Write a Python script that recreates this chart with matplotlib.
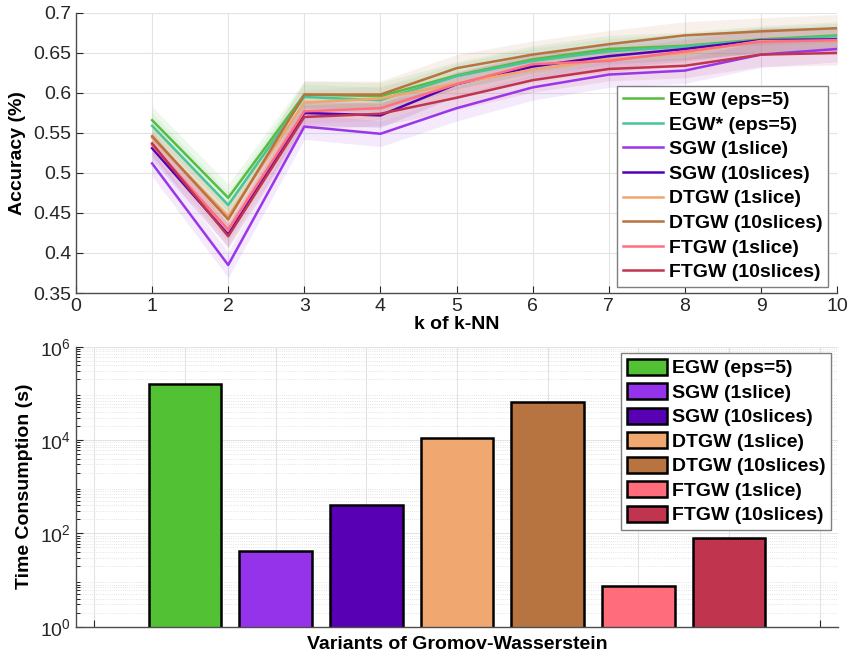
import numpy as np
import matplotlib
matplotlib.use('Agg')
import matplotlib.pyplot as plt
from matplotlib.ticker import FormatStrFormatter, LogLocator, NullFormatter

plt.rcParams['font.family'] = ['Liberation Sans', 'DejaVu Sans']
plt.rcParams['font.size'] = 14

# k-NN accuracy for each Gromov-Wasserstein variant
k_values = [1, 2, 3, 4, 5, 6, 7, 8, 9, 10]
line_labels = ['EGW (eps=5)', 'EGW* (eps=5)', 'SGW (1slice)', 'SGW (10slices)',
               'DTGW (1slice)', 'DTGW (10slices)', 'FTGW (1slice)', 'FTGW (10slices)']
acc_egw = [0.566, 0.469, 0.598, 0.596, 0.622, 0.642, 0.655, 0.659, 0.667, 0.672]
acc_egw_star = [0.559, 0.460, 0.595, 0.591, 0.621, 0.640, 0.652, 0.658, 0.666, 0.671]
acc_sgw1 = [0.512, 0.385, 0.558, 0.549, 0.581, 0.607, 0.623, 0.628, 0.648, 0.655]
acc_sgw10 = [0.531, 0.423, 0.575, 0.572, 0.611, 0.633, 0.646, 0.655, 0.666, 0.667]
acc_dtgw1 = [0.544, 0.446, 0.588, 0.593, 0.612, 0.629, 0.642, 0.650, 0.665, 0.665]
acc_dtgw10 = [0.546, 0.442, 0.598, 0.598, 0.631, 0.648, 0.661, 0.672, 0.677, 0.681]
acc_ftgw1 = [0.535, 0.429, 0.577, 0.581, 0.611, 0.636, 0.640, 0.652, 0.664, 0.666]
acc_ftgw10 = [0.537, 0.421, 0.570, 0.574, 0.594, 0.616, 0.630, 0.634, 0.648, 0.650]
acc_spread = [0.017, 0.016, 0.016, 0.015, 0.016, 0.017, 0.015, 0.015]
line_colors = ['#58bd3e', '#48c596', '#9a35ea', '#5400b8',
               '#f2a56c', '#b8733f', '#ff6f80', '#c0344e']

# runtime of each variant
bar_labels = ['EGW (eps=5)', 'SGW (1slice)', 'SGW (10slices)', 'DTGW (1slice)',
              'DTGW (10slices)', 'FTGW (1slice)', 'FTGW (10slices)']
time_sec = [1.6e5, 42, 400, 1.1e4, 6.6e4, 7.4, 80]
bar_colors = ['#52c234', '#9433ea', '#5700b4', '#f0a870', '#b87440', '#ff6c7c', '#c0344e']

acc_all = [acc_egw, acc_egw_star, acc_sgw1, acc_sgw10, acc_dtgw1, acc_dtgw10, acc_ftgw1, acc_ftgw10]

fig = plt.figure(figsize=(8.49, 6.62), dpi=100)
ax1 = fig.add_axes([0.0895, 0.5574, 0.8965, 0.423])
ax2 = fig.add_axes([0.0895, 0.0533, 0.8975, 0.423])


def matlab_style(ax):
    for side in ['top', 'right']:
        ax.spines[side].set_visible(False)
    for side in ['left', 'bottom']:
        ax.spines[side].set_color('#4d4d4d')
        ax.spines[side].set_linewidth(1.0)
    ax.tick_params(direction='in', colors='#262626', length=5, width=0.8)
    ax.tick_params(axis='both', which='both', labelcolor='#262626')


# top panel: accuracy curves with shaded spread
for acc, spread, col in zip(acc_all, acc_spread, line_colors):
    acc = np.array(acc)
    ax1.fill_between(k_values, acc - spread, acc + spread, color=col, alpha=0.1, lw=0)
for acc, col, lab in zip(acc_all, line_colors, line_labels):
    ax1.plot(k_values, acc, color=col, lw=1.8, label=lab)

ax1.set_xlim(0, 10)
ax1.set_ylim(0.35, 0.7)
ax1.set_xticks(range(0, 11))
ax1.set_yticks(np.arange(0.35, 0.701, 0.05))
ax1.yaxis.set_major_formatter(FormatStrFormatter('%g'))
ax1.grid(True, color='#e3e3e3', lw=0.8)
ax1.set_axisbelow(True)
matlab_style(ax1)
ax1.set_xlabel('k of k-NN', fontweight='bold', labelpad=1)
ax1.set_ylabel('Accuracy (%)', fontweight='bold', labelpad=5)
leg1 = ax1.legend(loc='lower right', bbox_to_anchor=(0.988, 0.021), borderaxespad=0,
                  fancybox=False, edgecolor='#7f7f7f', framealpha=1,
                  prop={'weight': 'bold', 'size': 14},
                  handlelength=2.05, handletextpad=0.3, labelspacing=0.36, borderpad=0.3)
leg1.get_frame().set_linewidth(1.0)

# bottom panel: runtime bars on log scale
xpos = np.arange(1, len(time_sec) + 1)
bars = ax2.bar(xpos, time_sec, width=0.8, color=bar_colors, edgecolor='black', linewidth=1.8)
for b, lab in zip(bars, bar_labels):
    b.set_label(lab)
ax2.set_yscale('log')
ax2.set_ylim(1, 1e6)
ax2.set_xlim(-0.2, 8.2)
ax2.set_xticks(range(0, 9))
ax2.set_xticklabels([])
ax2.set_yticks([1, 1e2, 1e4, 1e6])
ax2.yaxis.set_minor_locator(LogLocator(base=10, subs=np.arange(2, 10), numticks=20))
ax2.yaxis.set_minor_formatter(NullFormatter())
ax2.grid(True, which='major', color='#e3e3e3', lw=0.8)
ax2.grid(True, which='minor', axis='y', color='#dcdcdc', lw=0.6, ls=':')
ax2.set_axisbelow(True)
matlab_style(ax2)
ax2.tick_params(which='minor', direction='in', length=3, width=0.6)
ax2.set_xlabel('Variants of Gromov-Wasserstein', fontweight='bold', labelpad=3)
ax2.set_ylabel('Time Consumption (s)', fontweight='bold', labelpad=5)
leg2 = ax2.legend(handles=list(bars), loc='upper right', bbox_to_anchor=(0.991, 0.9775),
                  borderaxespad=0, fancybox=False, edgecolor='#7f7f7f', framealpha=1,
                  prop={'weight': 'bold', 'size': 14}, handlelength=2.05, handleheight=0.88,
                  handletextpad=0.25, labelspacing=0.3, borderpad=0.3)
leg2.get_frame().set_linewidth(1.0)

fig.savefig('out.png', dpi=100)
